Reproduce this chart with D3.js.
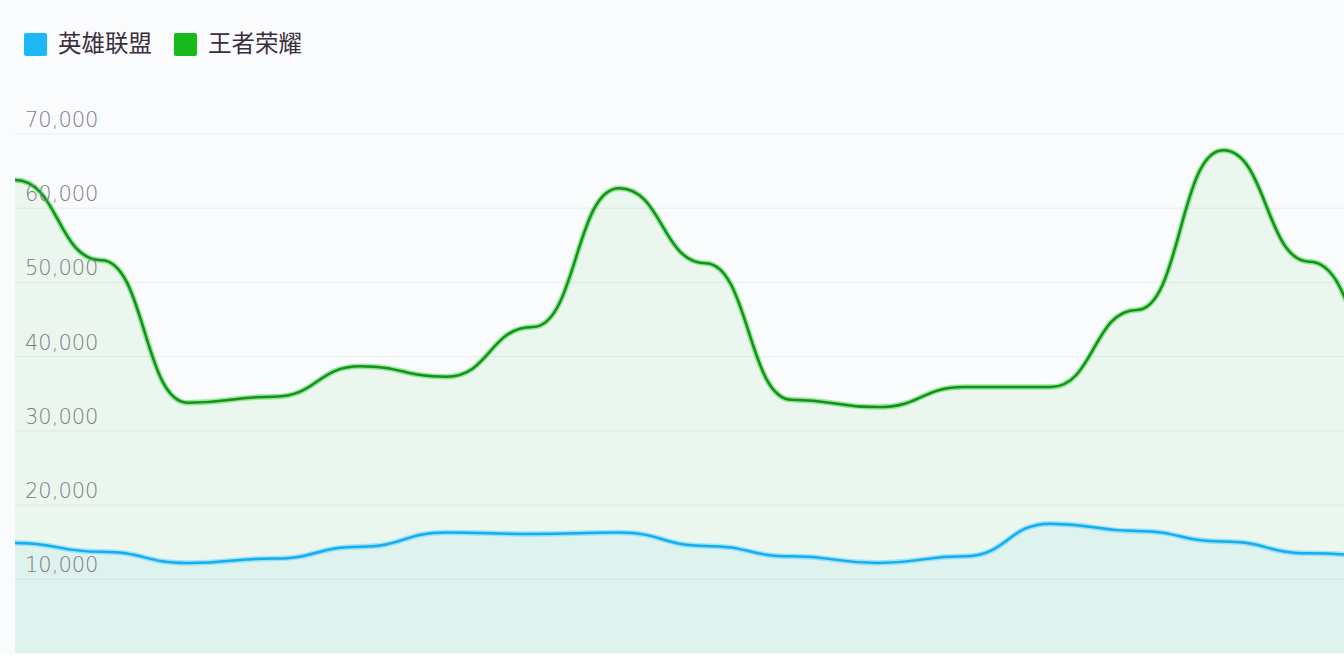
<!DOCTYPE html>
<html>
<head>
<meta charset="utf-8">
<script src="https://cdn.jsdelivr.net/npm/d3@7"></script>
<style>
  body { margin: 0; background: #fafbfd; }
  svg { display: block; }
</style>
</head>
<body>
<div id="chart"></div>
<script>

// Set dimensions for the plot
const width = 1344;
const height = 668;
const plot = {left: 15, right: 1344, top: 134, bottom: 653.5};
const step = 86.3; // spacing between the days, last point sits past the right edge

// chart data
const categories = ["1", "2", "3", "4", "5", "6", "7", "8", "9", "10", "11", "12", "13", "14", "15", "16", "17"];
const seriesNames = ["英雄联盟", "王者荣耀"];
const lolValues = [14900, 13700, 12200, 12800, 14400, 16300, 16100, 16300, 14500, 13100, 12200, 13100, 17500, 16500, 15100, 13500, 13000];
const wzValues = [63800, 53000, 33800, 34600, 38700, 37300, 44000, 62700, 52600, 34200, 33200, 35900, 35900, 46300, 67800, 52800, 38000];
const yTicks = [10000, 20000, 30000, 40000, 50000, 60000, 70000];

const svg = d3.select("#chart")
  .append("svg")
  .attr("width", width)
  .attr("height", height);

// scales
const xScale = d3.scalePoint()
  .domain(categories)
  .range([plot.left, plot.left + step * (categories.length - 1)]);

const yScale = d3.scaleLinear()
  .domain([0, 70000])
  .range([plot.bottom, plot.top]);

// white strip under the plot, like the card edge
svg.append("rect")
  .attr("x", 0)
  .attr("y", plot.bottom + 1)
  .attr("width", width)
  .attr("height", height - plot.bottom)
  .attr("fill", "#ffffff");

// clip everything to the plot area
svg.append("clipPath")
  .attr("id", "plot-clip")
  .append("rect")
  .attr("x", plot.left)
  .attr("y", 0)
  .attr("width", plot.right - plot.left)
  .attr("height", plot.bottom);

/*

  Grid + y labels

*/
svg.append("g")
  .selectAll("line")
  .data(yTicks)
  .join("line")
    .attr("x1", plot.left)
    .attr("x2", plot.right)
    .attr("y1", d => yScale(d))
    .attr("y2", d => yScale(d))
    .attr("stroke", "#e9ecef")
    .attr("stroke-width", 1);

/*

  Areas and lines

*/
const g = svg.append("g").attr("clip-path", "url(#plot-clip)");

const area = vals => d3.area()
  .x((d, i) => xScale(categories[i]))
  .y0(yScale(0))
  .y1(d => yScale(d))
  .curve(d3.curveBumpX)(vals);

const line = vals => d3.line()
  .x((d, i) => xScale(categories[i]))
  .y(d => yScale(d))
  .curve(d3.curveBumpX)(vals);

// green area first, blue goes on top of it
g.append("path")
  .attr("d", area(wzValues))
  .attr("fill", "#2ec82e")
  .attr("fill-opacity", 0.07);

g.append("path")
  .attr("d", area(lolValues))
  .attr("fill", "#22b8e8")
  .attr("fill-opacity", 0.06);

// glow under the lines
g.append("path")
  .attr("d", line(wzValues))
  .attr("fill", "none")
  .attr("stroke", "#48d848")
  .attr("stroke-opacity", 0.55)
  .attr("stroke-width", 5.5);

g.append("path")
  .attr("d", line(wzValues))
  .attr("fill", "none")
  .attr("stroke", "#13901d")
  .attr("stroke-width", 2.5);

g.append("path")
  .attr("d", line(lolValues))
  .attr("fill", "none")
  .attr("stroke", "#6fd3ff")
  .attr("stroke-opacity", 0.6)
  .attr("stroke-width", 5.5);

g.append("path")
  .attr("d", line(lolValues))
  .attr("fill", "none")
  .attr("stroke", "#12aef0")
  .attr("stroke-width", 2.5);

// y labels sit above their gridline, drawn over the lines
svg.append("g")
  .selectAll("text")
  .data(yTicks)
  .join("text")
    .attr("x", 25)
    .attr("y", d => yScale(d) - 7)
    .attr("font-family", "DejaVu Sans")
    .attr("font-weight", 200)
    .attr("font-size", "21px")
    .attr("fill", "#7e7c88")
    .text(d => d3.format(",")(d));

/*

  Legend

*/
const legendColors = ["#1db9f6", "#17b91b"];
const legendX = [24, 174];

const legend = svg.append("g")
  .selectAll("g")
  .data(seriesNames)
  .join("g")
    .attr("transform", (d, i) => `translate(${legendX[i]}, 33)`);

legend.append("rect")
  .attr("width", 23)
  .attr("height", 23)
  .attr("rx", 2)
  .attr("fill", (d, i) => legendColors[i]);

legend.append("text")
  .attr("x", 34)
  .attr("y", 19)
  .attr("font-family", "Noto Sans CJK SC")
  .attr("font-size", "23.5px")
  .attr("fill", "#3a2e3c")
  .text(d => d);

</script>
</body>
</html>
